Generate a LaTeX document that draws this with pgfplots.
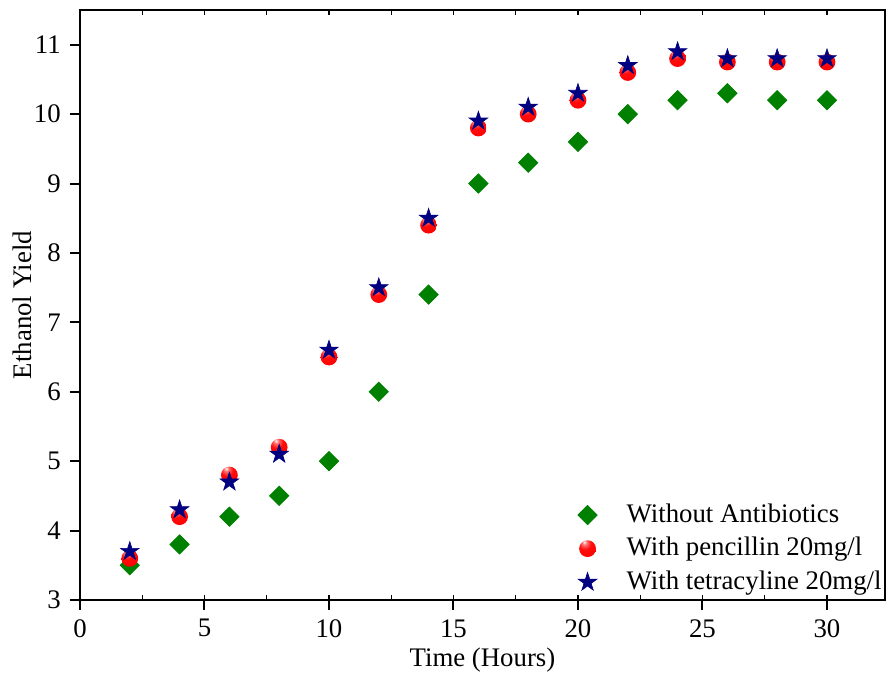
\documentclass[border=0pt]{standalone}
\usepackage{fontspec}
\setmainfont{Liberation Serif}
\usepackage{pgfplots}
\pgfplotsset{compat=1.18}
\definecolor{dgreen}{HTML}{008000}
\definecolor{dnavy}{HTML}{000080}
\pgfdeclareplotmark{fstar}{%
 \pgfpathmoveto{\pgfpointpolar{90}{\pgfplotmarksize}}%
 \pgfpathlineto{\pgfpointpolar{126}{0.382\pgfplotmarksize}}%
 \pgfpathlineto{\pgfpointpolar{162}{\pgfplotmarksize}}%
 \pgfpathlineto{\pgfpointpolar{198}{0.382\pgfplotmarksize}}%
 \pgfpathlineto{\pgfpointpolar{234}{\pgfplotmarksize}}%
 \pgfpathlineto{\pgfpointpolar{270}{0.382\pgfplotmarksize}}%
 \pgfpathlineto{\pgfpointpolar{306}{\pgfplotmarksize}}%
 \pgfpathlineto{\pgfpointpolar{342}{0.382\pgfplotmarksize}}%
 \pgfpathlineto{\pgfpointpolar{18}{\pgfplotmarksize}}%
 \pgfpathlineto{\pgfpointpolar{54}{0.382\pgfplotmarksize}}%
 \pgfpathclose
 \pgfusepathqfillstroke}
\pgfdeclareradialshading{redball}{\pgfpoint{-10bp}{20bp}}{rgb(0bp)=(1,1,1); rgb(7bp)=(1,0.45,0.45); rgb(18bp)=(1,0.05,0.05); rgb(40bp)=(1,0,0); rgb(80bp)=(0.95,0,0)}
\pgfdeclareplotmark{rball}{%
 \pgfpathcircle{\pgfpointorigin}{\pgfplotmarksize}%
 \pgfshadepath{redball}{0}%
 \pgfusepath{discard}}
\pgfplotsset{myleg/.style={legend image code/.code={\draw[##1] plot coordinates {(0.3cm,0cm)}; \path (0cm,0cm) (0.91cm,0cm);}}}
\begin{document}
\fontsize{13.4}{15.5}\selectfont
\begin{tikzpicture}
\begin{axis}[name=ax, scale only axis, width=402.5pt, height=295pt,
 xmin=0, xmax=32.33, ymin=3, ymax=11.5,
 xtick={0,5,...,30}, ytick={3,...,11},
 tick align=outside, xtick pos=bottom, ytick pos=left,
 major tick length=5pt,
 axis line style={line width=1pt},
 every tick/.style={line width=1pt, black},
 /pgf/number format/assume math mode=true,
 ticklabel style={font=\fontsize{13.4}{15.5}\selectfont},
 xlabel={Time (Hours)}, ylabel={Ethanol Yield},
 label style={font=\fontsize{13.4}{15.5}\selectfont},
 xlabel style={at={(axis description cs:0.5,-0.102)}, anchor=center},
 ylabel style={at={(axis description cs:-0.072,0.5)}, anchor=center},
 legend style={draw=none, fill=none, overlay, at={(1,0)}, anchor=south east, xshift=3.5pt, yshift=-1pt,
   font=\fontsize{13.4}{15.5}\selectfont, row sep=1.5pt},
 legend cell align=left,
]
\addplot[only marks, myleg, mark=square*, mark size=3.4pt, mark options={rotate=45, fill=dgreen, draw=dgreen}]
 coordinates {(2,3.5)(4,3.8)(6,4.2)(8,4.5)(10,5.0)(12,6.0)(14,7.4)(16,9.0)(18,9.3)(20,9.6)(22,10.0)(24,10.2)(26,10.3)(28,10.2)(30,10.2)};
\addlegendentry{Without Antibiotics}
\addplot[only marks, myleg, mark=rball, mark size=4.2pt]
 coordinates {(2,3.6)(4,4.2)(6,4.8)(8,5.2)(10,6.5)(12,7.4)(14,8.4)(16,9.8)(18,10.0)(20,10.2)(22,10.6)(24,10.8)(26,10.75)(28,10.75)(30,10.75)};
\addlegendentry{With pencillin 20mg/l}
\addplot[only marks, myleg, mark=fstar, mark size=4.9pt, mark options={fill=dnavy, draw=dnavy, line width=0.3pt}]
 coordinates {(2,3.7)(4,4.3)(6,4.7)(8,5.1)(10,6.6)(12,7.5)(14,8.5)(16,9.9)(18,10.1)(20,10.3)(22,10.7)(24,10.9)(26,10.8)(28,10.8)(30,10.8)};
\addlegendentry{With tetracyline 20mg/l}
\end{axis}
\begin{axis}[at={(ax.south west)}, anchor=south west, scale only axis, width=402.5pt, height=295pt,
 xmin=0, xmax=32.33, ymin=3, ymax=11.5,
 xtick={0,2.5,...,32.5}, xticklabels={}, ytick=\empty,
 tick align=inside, xtick pos=both, major tick length=2.5pt,
 every tick/.style={line width=0.6pt, black},
 axis line style={draw=none}]
\end{axis}
\path (ax.south west) ++(-40pt,-38.5pt);
\path (ax.north east) ++(0.5pt,5pt);
\end{tikzpicture}
\end{document}
